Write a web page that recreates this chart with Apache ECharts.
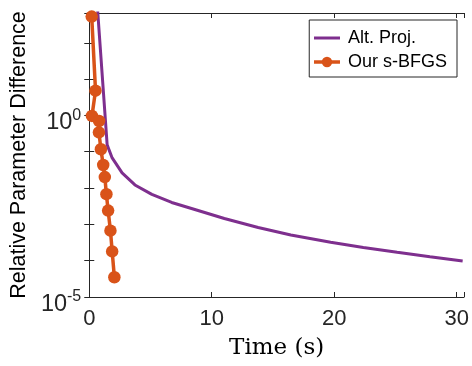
<!DOCTYPE html>
<html>
<head>
<meta charset="utf-8">
<style>
  html, body { margin: 0; padding: 0; background: #fff; }
  #chart { width: 472px; height: 366px; }
</style>
<script src="https://cdn.jsdelivr.net/npm/echarts@6/dist/echarts.min.js"></script>
</head>
<body>
<div id="chart"></div>
<script>
// Alt. Proj. (time in s, relative difference)
const altProjTime = [0.66, 1.46, 1.87, 2.68, 3.73, 5.11, 6.73, 8.35, 11.03, 13.79, 16.46, 19.71, 22.38, 25.14, 27.82, 30.49];
const altProjDiff = [1000, 0.154, 0.0675, 0.0261, 0.01217, 0.00667, 0.00401, 0.00274, 0.001455, 0.000822, 0.000511, 0.000321, 0.000231, 0.00017, 0.000129, 0.0000982];

// Our s-BFGS
const bfgsTime = [0.2, 0.51, 0.22, 0.8, 0.79, 0.95, 1.14, 1.27, 1.40, 1.54, 1.73, 1.87, 2.05];
const bfgsDiff = [525, 4.8, 0.97, 0.70, 0.34, 0.117, 0.043, 0.020, 0.0068, 0.0024, 0.00067, 0.00018, 0.000035];

const xTicks = [0, 10, 20, 30];
const yLabelExponents = [0, -5];
const seriesNames = ["Alt. Proj.", "Our s-BFGS"];

(function () {
  const chart = echarts.init(document.getElementById("chart"));
  const purple = "#7E2F8E";
  const orange = "#D95319";
  const axisColor = "#262626";
  const sans = "Liberation Sans, Arial, sans-serif";

  const X_MAX = 30.6;
  const Y_MIN = 1e-5;
  const Y_MAX = 660;

  function pairs(xs, ys) {
    return xs.map((x, i) => [x, ys[i]]);
  }

  function xLabel(value) {
    return xTicks.indexOf(value) >= 0 ? String(value) : "";
  }

  function yLabel(value) {
    const exp = Math.log10(value);
    const rounded = Math.round(exp);
    if (Math.abs(exp - rounded) > 1e-6) return "";
    if (yLabelExponents.indexOf(rounded) < 0) return "";
    return `{b|10}{s|${rounded}}`;
  }

  const lineStyle = { color: axisColor, width: 1 };
  const tickStyle = { inside: true, length: 5, lineStyle: { color: axisColor, width: 1 } };

  chart.setOption({
    animation: false,
    grid: { left: 87, top: 13, right: 8, bottom: 69 },
    legend: {
      orient: "vertical",
      right: 15,
      top: 20,
      data: [
        { name: seriesNames[0], itemStyle: { opacity: 0 }, lineStyle: { width: 3 } },
        { name: seriesNames[1], lineStyle: { width: 3.5 } }
      ],
      backgroundColor: "#fff",
      borderColor: "#262626",
      borderWidth: 1,
      padding: [9, 10, 6, 3],
      itemGap: 6,
      itemWidth: 26,
      itemHeight: 13,
      textStyle: { fontFamily: sans, fontSize: 18, color: "#000", padding: [0, 0, 0, 3] }
    },
    xAxis: [
      {
        type: "value",
        min: 0,
        max: X_MAX,
        interval: 10,
        position: "bottom",
        name: "Time (s)",
        nameLocation: "middle",
        nameGap: 40,
        nameTextStyle: { fontFamily: "DejaVu Serif, serif", fontSize: 23, color: "#000" },
        axisLine: { show: true, lineStyle },
        axisTick: tickStyle,
        axisLabel: {
          formatter: xLabel,
          margin: 11,
          fontFamily: sans,
          fontSize: 22,
          color: axisColor
        },
        splitLine: { show: false }
      },
      {
        type: "value",
        min: 0,
        max: X_MAX,
        interval: 10,
        position: "top",
        axisLine: { show: true, lineStyle },
        axisTick: tickStyle,
        axisLabel: { show: false },
        splitLine: { show: false }
      }
    ],
    yAxis: [
      {
        type: "log",
        logBase: 10,
        min: Y_MIN,
        max: Y_MAX,
        position: "left",
        name: "Relative Parameter Difference",
        nameLocation: "middle",
        nameGap: 59,
        nameTextStyle: { fontFamily: sans, fontSize: 21.5, color: "#000" },
        axisLine: { show: true, lineStyle },
        axisTick: tickStyle,
        axisLabel: {
          formatter: yLabel,
          margin: 8,
          color: axisColor,
          rich: {
            b: { fontFamily: sans, fontSize: 23.5, color: axisColor, padding: [15, 0, 0, 0] },
            s: { fontFamily: sans, fontSize: 16, color: axisColor }
          }
        },
        splitLine: { show: false }
      },
      {
        type: "log",
        logBase: 10,
        min: Y_MIN,
        max: Y_MAX,
        position: "right",
        axisLine: { show: true, lineStyle },
        axisTick: tickStyle,
        axisLabel: { show: false },
        splitLine: { show: false }
      }
    ],
    series: [
      {
        name: seriesNames[0],
        type: "line",
        symbol: "none",
        clip: true,
        lineStyle: { color: purple, width: 3 },
        itemStyle: { color: purple },
        data: pairs(altProjTime, altProjDiff),
        z: 2
      },
      {
        name: seriesNames[1],
        type: "line",
        symbol: "circle",
        symbolSize: 12.5,
        clip: true,
        lineStyle: { color: orange, width: 3.5 },
        itemStyle: { color: orange },
        data: pairs(bfgsTime, bfgsDiff),
        z: 3
      }
    ]
  });
})();
</script>
</body>
</html>
